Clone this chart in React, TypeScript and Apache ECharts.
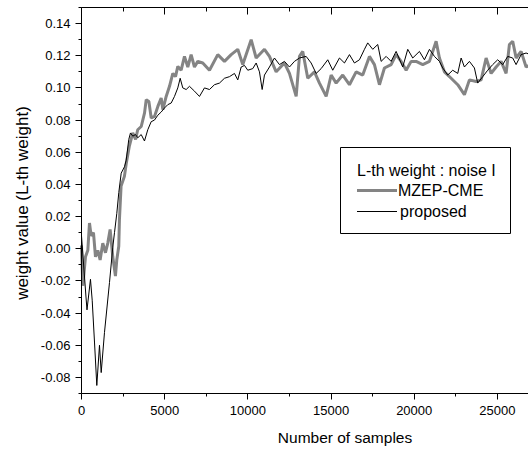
import React, { useEffect, useRef } from "react";
import * as echarts from "echarts";

// [sample index, weight value]
const mzepCme: [number, number][] = [
  [0, 0.002], [80, -0.023], [240, -0.005], [380, -0.001], [480, 0.016], [580, 0.008],
  [720, 0.01], [840, -0.005], [980, -0.001], [1120, -0.007], [1280, 0.0035], [1440, -0.0025],
  [1580, 0.0035], [1720, 0.012], [1880, -0.005], [2040, -0.017], [2120, -0.007], [2240, 0.0015],
  [2280, 0.018], [2380, 0.039], [2580, 0.045], [2690, 0.053], [2880, 0.064], [3080, 0.072],
  [3250, 0.068], [3380, 0.074], [3590, 0.076], [3790, 0.0845], [3890, 0.0927], [4050, 0.0916],
  [4190, 0.0813], [4390, 0.0823], [4590, 0.0885], [4790, 0.0937], [4890, 0.0865], [5090, 0.0947],
  [5290, 0.101], [5490, 0.109], [5650, 0.107], [5790, 0.1134], [5990, 0.111], [6190, 0.1196],
  [6390, 0.113], [6590, 0.1207], [6790, 0.113], [6990, 0.1165], [7290, 0.1155], [7693, 0.111],
  [8192, 0.1207], [8594, 0.1165], [8997, 0.1207], [9394, 0.124], [9694, 0.1145], [10199, 0.13],
  [10499, 0.1186], [10998, 0.124], [11299, 0.1196], [11701, 0.11], [12200, 0.1155], [12501, 0.109],
  [12904, 0.0947], [13102, 0.1196], [13300, 0.1227], [13601, 0.106], [14003, 0.11], [14304, 0.103],
  [14707, 0.0947], [15007, 0.108], [15307, 0.103], [15704, 0.108], [16107, 0.102], [16509, 0.11],
  [16906, 0.108], [17309, 0.1196], [17609, 0.1145], [17910, 0.102], [18210, 0.1124], [18613, 0.1145],
  [18913, 0.1207], [19214, 0.1165], [19515, 0.111], [19815, 0.1165], [20116, 0.1165], [20513, 0.1145],
  [20915, 0.1165], [21317, 0.129], [21516, 0.1186], [21816, 0.11], [22219, 0.106], [22616, 0.102],
  [23018, 0.0958], [23319, 0.105], [23721, 0.104], [24022, 0.105], [24322, 0.1186], [24623, 0.109],
  [24924, 0.113], [25224, 0.1165], [25524, 0.109], [25723, 0.127], [25921, 0.129], [26125, 0.1186],
  [26426, 0.1227], [26726, 0.113], [26900, 0.114],
];

const proposed: [number, number][] = [
  [0, 0.008], [270, -0.03], [330, -0.038], [540, -0.019], [643, -0.032], [781, -0.058],
  [920, -0.085], [1082, -0.06], [1184, -0.077], [1382, -0.052], [1683, -0.021], [1881, 0.001],
  [1983, 0.01], [2122, 0.022], [2242, 0.035], [2386, 0.047], [2584, 0.051], [2686, 0.055],
  [2843, 0.068], [2945, 0.072], [3083, 0.07], [3245, 0.071], [3384, 0.069], [3588, 0.071],
  [3786, 0.067], [3985, 0.074], [4189, 0.079], [4387, 0.08], [4586, 0.083], [4790, 0.085],
  [4988, 0.0875], [5187, 0.0896], [5391, 0.0906], [5589, 0.0947], [5788, 0.1], [5932, 0.106],
  [6088, 0.1], [6292, 0.099], [6491, 0.101], [6791, 0.098], [7092, 0.0947], [7392, 0.1],
  [7693, 0.099], [7993, 0.102], [8294, 0.103], [8594, 0.106], [8895, 0.107], [9195, 0.109],
  [9394, 0.105], [9598, 0.113], [9796, 0.114], [9995, 0.111], [10295, 0.112], [10499, 0.1155],
  [10698, 0.11], [10860, 0.099], [10998, 0.108], [11299, 0.113], [11599, 0.1186], [11900, 0.1145],
  [12200, 0.1165], [12501, 0.113], [12801, 0.1165], [13102, 0.1186], [13504, 0.1196], [13805, 0.1155],
  [14105, 0.109], [14406, 0.112], [14803, 0.1175], [15103, 0.111], [15506, 0.1186], [15806, 0.1155],
  [16107, 0.1207], [16407, 0.1155], [16708, 0.1175], [17008, 0.124], [17206, 0.128], [17507, 0.124],
  [17808, 0.127], [18012, 0.1165], [18313, 0.1196], [18613, 0.1165], [18913, 0.1227], [19310, 0.113],
  [19611, 0.124], [19911, 0.1186], [20314, 0.1227], [20614, 0.1175], [20915, 0.124], [21215, 0.1196],
  [21516, 0.1165], [21714, 0.1124], [22015, 0.108], [22315, 0.111], [22616, 0.109], [22820, 0.1186],
  [23018, 0.113], [23319, 0.1165], [23619, 0.1124], [23817, 0.103], [24118, 0.107], [24418, 0.111],
  [24719, 0.1145], [25019, 0.1175], [25320, 0.1145], [25620, 0.1196], [25921, 0.1186], [26125, 0.1145],
  [26426, 0.1207], [26726, 0.1217], [26900, 0.121],
];

const xMajorTicks = [0, 5000, 10000, 15000, 20000, 25000];
const xMinorTicks = [2500, 7500, 12500, 17500, 22500];
const yMajorTicks = [-0.08, -0.06, -0.04, -0.02, 0, 0.02, 0.04, 0.06, 0.08, 0.1, 0.12, 0.14];
const yMinorTicks = [-0.09, -0.07, -0.05, -0.03, -0.01, 0.01, 0.03, 0.05, 0.07, 0.09, 0.11, 0.13, 0.15];

const legendTitle = "L-th weight : noise I";
const seriesNames = ["MZEP-CME", "proposed"];
const xName = "Number of samples";
const yName = "weight value (L-th weight)";

const FONT = "'Liberation Sans', Arial, Helvetica, sans-serif";
const X_MIN = 0;
const X_MAX = 26900;
const Y_MIN = -0.09;
const Y_MAX = 0.15;

const W = 528;
const H = 451;
const GRID = { left: 81.5, top: 7.5, right: -1, bottom: 57.5 };

export default function App() {
  const ref = useRef<HTMLDivElement>(null);
  useEffect(() => {
    if (!ref.current) return;
    const chart = echarts.init(ref.current, undefined, { renderer: "svg", width: W, height: H });
    const black = "#000000";

    chart.setOption({
      animation: false,
      backgroundColor: "#fff",
      textStyle: { fontFamily: FONT },
      grid: {
        ...GRID,
        show: false,
        containLabel: false,
        outerBoundsMode: "none",
      },
      xAxis: {
        type: "value",
        min: X_MIN,
        max: X_MAX,
        axisLine: { show: false },
        axisTick: { show: false },
        axisLabel: {
          show: true,
          customValues: xMajorTicks,
          fontSize: 13,
          color: black,
          margin: 10,
          fontFamily: FONT,
          formatter: (v: number) => String(v),
        },
        splitLine: { show: false },
      },
      yAxis: {
        type: "value",
        min: Y_MIN,
        max: Y_MAX,
        axisLine: { show: false },
        axisTick: { show: false },
        axisLabel: {
          show: true,
          customValues: yMajorTicks,
          formatter: (v: number) => v.toFixed(2),
          fontSize: 13,
          color: black,
          margin: 11,
          fontFamily: FONT,
        },
        splitLine: { show: false },
      },
      series: [
        {
          name: seriesNames[0],
          type: "line",
          data: mzepCme,
          showSymbol: false,
          clip: false,
          lineStyle: { color: "#848484", width: 3 },
          z: 2,
        },
        {
          name: seriesNames[1],
          type: "line",
          data: proposed,
          showSymbol: false,
          clip: false,
          lineStyle: { color: black, width: 1 },
          z: 3,
        },
      ],
    });

    // Pixel position from the chart's own axes; fall back to the grid's linear mapping
    const gw = W - GRID.left - GRID.right;
    const gh = H - GRID.top - GRID.bottom;
    const toPx = (x: number, y: number): number[] => {
      let p: any = null;
      try {
        p = chart.convertToPixel({ gridIndex: 0 }, [x, y]);
      } catch (e) {
        p = null;
      }
      if (!p || !isFinite(p[0]) || !isFinite(p[1])) {
        p = [
          GRID.left + ((x - X_MIN) / (X_MAX - X_MIN)) * gw,
          GRID.top + ((Y_MAX - y) / (Y_MAX - Y_MIN)) * gh,
        ];
      }
      return p;
    };
    const crisp = (p: number) => Math.round(p - 0.5) + 0.5;
    const seg = (x1: number, y1: number, x2: number, y2: number) => ({
      type: "line",
      z: 40,
      shape: { x1, y1, x2, y2 },
      style: { stroke: black, lineWidth: 1, fill: null },
    });
    const tl = toPx(X_MIN, Y_MAX);
    const br = toPx(X_MAX, Y_MIN);
    const left = crisp(tl[0]);
    const top = crisp(tl[1]);
    const bottom = crisp(br[1]);
    const right = W + 2;
    const axisEls: any[] = [
      seg(left, top, left, bottom),
      seg(left, top, right, top),
      seg(left, bottom, right, bottom),
    ];
    yMajorTicks.forEach((v) => {
      const y = crisp(toPx(X_MIN, v)[1]);
      axisEls.push(seg(left - 6, y, left, y));
    });
    yMinorTicks.forEach((v) => {
      const y = crisp(toPx(X_MIN, v)[1]);
      axisEls.push(seg(left - 3, y, left, y));
    });
    xMajorTicks.forEach((v) => {
      const x = crisp(toPx(v, Y_MIN)[0]);
      axisEls.push(seg(x, bottom, x, bottom + 6));
      axisEls.push(seg(x, top, x, top + 7));
    });
    xMinorTicks.forEach((v) => {
      const x = crisp(toPx(v, Y_MIN)[0]);
      axisEls.push(seg(x, bottom, x, bottom + 3));
      axisEls.push(seg(x, top, x, top + 4));
    });

    const legendEls: any[] = [
      {
        type: "rect",
        shape: { x: 340.5, y: 147.5, width: 170, height: 86 },
        style: { fill: "#fff", stroke: black, lineWidth: 1 },
        z: 30,
      },
      {
        type: "text",
        x: 357,
        y: 170,
        style: { text: legendTitle, font: `16px ${FONT}`, fill: black, textAlign: "left", textVerticalAlign: "middle" },
        z: 31,
      },
      {
        type: "line",
        shape: { x1: 357, y1: 190.5, x2: 397, y2: 190.5 },
        style: { stroke: "#848484", lineWidth: 3 },
        z: 31,
      },
      {
        type: "text",
        x: 398,
        y: 190.5,
        style: { text: seriesNames[0], font: `16px ${FONT}`, fill: black, textAlign: "left", textVerticalAlign: "middle" },
        z: 31,
      },
      {
        type: "line",
        shape: { x1: 357, y1: 211.5, x2: 397, y2: 211.5 },
        style: { stroke: black, lineWidth: 1 },
        z: 31,
      },
      {
        type: "text",
        x: 400,
        y: 211,
        style: { text: seriesNames[1], font: `16px ${FONT}`, fill: black, textAlign: "left", textVerticalAlign: "middle" },
        z: 31,
      },
      {
        type: "text",
        x: 345,
        y: 437,
        style: { text: xName, font: `15.5px ${FONT}`, fill: black, textAlign: "center", textVerticalAlign: "middle" },
      },
      {
        type: "text",
        x: 22,
        y: 203,
        rotation: Math.PI / 2,
        style: { text: yName, font: `17px ${FONT}`, fill: black, textAlign: "center", textVerticalAlign: "middle" },
      },
    ];

    chart.setOption({ graphic: { elements: [...axisEls, ...legendEls] } });
    return () => chart.dispose();
  }, []);
  return (
    <div
      ref={ref}
      style={{ position: "fixed", left: 0, top: 0, width: W, height: H, overflow: "hidden" }}
    />
  );
}
